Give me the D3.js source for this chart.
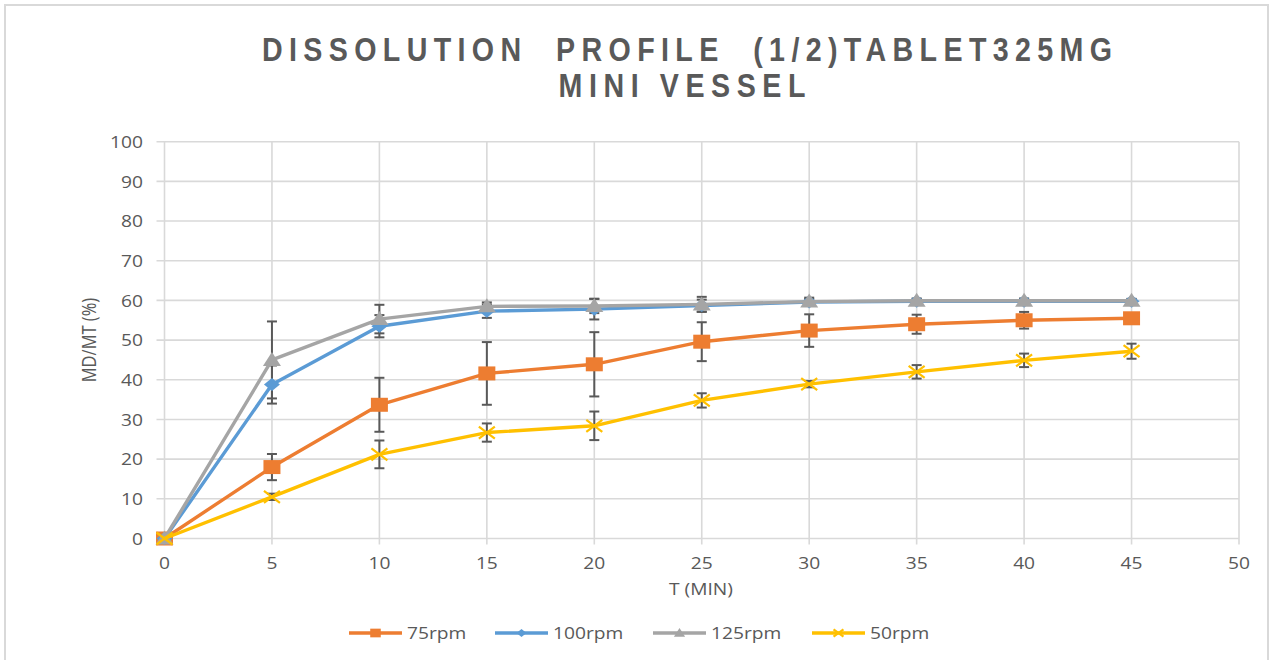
<!DOCTYPE html>
<html>
<head>
<meta charset="utf-8">
<script src="https://cdn.jsdelivr.net/npm/d3@7"></script>
<style>
html,body{margin:0;padding:0;background:#fff;}
svg{display:block;}
</style>
</head>
<body>
<svg id="chart" width="1275" height="660"></svg>
<script>
// ---- data ----
const times = [0, 5, 10, 15, 20, 25, 30, 35, 40, 45];
const rpm75 = [0, 18, 33.7, 41.6, 43.9, 49.6, 52.4, 54, 55, 55.5];
const rpm75Err = [0, 3.3, 6.8, 7.9, 8.1, 4.9, 4.1, 2.4, 2.1, 0.8];
const rpm100 = [0, 38.8, 53.5, 57.3, 57.8, 58.7, 59.6, 59.8, 59.8, 59.8];
const rpm100Err = [0, 4.8, 2.8, 1.7, 2.6, 1.5, 0.8, 0.5, 0.5, 0.5];
const rpm125 = [0, 45, 55.3, 58.5, 58.6, 59, 59.7, 59.9, 59.9, 59.9];
const rpm125Err = [0, 9.7, 3.6, 1.0, 1.8, 1.9, 1.0, 0.6, 0.6, 0.5];
const rpm50 = [0, 10.5, 21.2, 26.7, 28.4, 34.8, 38.9, 42, 44.9, 47.2];
const rpm50Err = [0, 0.8, 3.5, 2.3, 3.6, 1.8, 0.8, 1.7, 1.7, 1.9];
const seriesNames = ["75rpm", "100rpm", "125rpm", "50rpm"];
const yTicks = [0, 10, 20, 30, 40, 50, 60, 70, 80, 90, 100];
const xTicks = [0, 5, 10, 15, 20, 25, 30, 35, 40, 45, 50];
const titleLines = ["DISSOLUTION  PROFILE  (1/2)TABLET325MG", "MINI VESSEL"];
const xTitle = "T (MIN)";
const yTitle = "MD/MT (%)";

const series = [
  {name: seriesNames[0], values: rpm75, err: rpm75Err, color: "#ED7D31", marker: "square"},
  {name: seriesNames[1], values: rpm100, err: rpm100Err, color: "#5B9BD5", marker: "diamond"},
  {name: seriesNames[2], values: rpm125, err: rpm125Err, color: "#A5A5A5", marker: "triangle"},
  {name: seriesNames[3], values: rpm50, err: rpm50Err, color: "#FFC000", marker: "x"}
];

const svg = d3.select("#chart");
const textColor = "#595959";
const gridColor = "#d9d9d9";
const font = "'Open Sans', 'DejaVu Sans', sans-serif";
const SX = 1.2; // horizontal stretch of text

// outer border
svg.append("rect").attr("x", 5).attr("y", 5).attr("width", 1263).attr("height", 665)
  .attr("fill", "none").attr("stroke", gridColor).attr("stroke-width", 2);

const x = d3.scaleLinear().domain([0, 50]).range([164.5, 1239]);
const y = d3.scaleLinear().domain([0, 100]).range([538.5, 141.7]);

// title
const titleWidths = [850, 247];
const titleCenters = [687, 682];
const titleBase = [61, 97];
const TSX = 1.06, TSY = 1.2;
titleLines.forEach((t, i) => {
  svg.append("text")
    .attr("transform", `translate(${titleCenters[i]},${titleBase[i]}) scale(${TSX},${TSY})`)
    .attr("text-anchor", "middle")
    .style("white-space", "pre")
    .attr("font-family", "'Liberation Sans', Arial, sans-serif")
    .attr("font-weight", "bold")
    .attr("font-size", 27)
    .attr("fill", textColor)
    .attr("textLength", titleWidths[i] / TSX)
    .attr("lengthAdjust", "spacing")
    .text(t);
});

// gridlines
const grid = svg.append("g");
grid.selectAll("line.h").data(yTicks).join("line")
  .attr("x1", x(0) - 8).attr("x2", x(50))
  .attr("y1", d => y(d)).attr("y2", d => y(d))
  .attr("stroke", gridColor).attr("stroke-width", 1.6);
grid.selectAll("line.v").data(xTicks).join("line")
  .attr("x1", d => x(d)).attr("x2", d => x(d))
  .attr("y1", y(100)).attr("y2", y(0) + 6)
  .attr("stroke", gridColor).attr("stroke-width", 1.6);

function stretchedText(g, tx, ty, str, anchor, size) {
  return g.append("text")
    .attr("transform", `translate(${tx},${ty}) scale(${SX},1)`)
    .attr("text-anchor", anchor)
    .attr("dominant-baseline", "central")
    .attr("font-family", font)
    .attr("font-size", size)
    .attr("fill", textColor)
    .text(str);
}

// axis labels
const axG = svg.append("g");
yTicks.forEach(v => stretchedText(axG, 143, y(v), String(v), "end", 16));
xTicks.forEach(v => stretchedText(axG, x(v), 563, String(v), "middle", 16));
stretchedText(axG, 701, 589, xTitle, "middle", 16);
axG.append("text")
  .attr("transform", `translate(88,340) rotate(-90) scale(1,${SX})`)
  .attr("text-anchor", "middle")
  .attr("dominant-baseline", "central")
  .attr("font-family", font).attr("font-size", 16.5).attr("fill", textColor)
  .text(yTitle);

// error bars
const errG = svg.append("g");
series.forEach(s => {
  times.forEach((t, i) => {
    const e = s.err[i];
    if (!e) return;
    const cx = x(t), y1 = y(s.values[i] + e), y2 = y(s.values[i] - e);
    errG.append("line").attr("x1", cx).attr("x2", cx).attr("y1", y1).attr("y2", y2)
      .attr("stroke", "#595959").attr("stroke-width", 2);
    [y1, y2].forEach(yy => errG.append("line")
      .attr("x1", cx - 5).attr("x2", cx + 5).attr("y1", yy).attr("y2", yy)
      .attr("stroke", "#595959").attr("stroke-width", 2));
  });
});

function drawMarker(g, type, cx, cy, color, k) {
  if (type === "square") {
    g.append("rect").attr("x", cx - 8.5 * k).attr("y", cy - 7 * k)
      .attr("width", 17 * k).attr("height", 14 * k).attr("fill", color);
  } else if (type === "diamond") {
    g.append("path").attr("d", `M${cx},${cy - 6.5 * k}L${cx + 8 * k},${cy}L${cx},${cy + 6.5 * k}L${cx - 8 * k},${cy}Z`)
      .attr("fill", color);
  } else if (type === "triangle") {
    g.append("path").attr("d", `M${cx},${cy - 8 * k}L${cx + 9 * k},${cy + 6 * k}L${cx - 9 * k},${cy + 6 * k}Z`)
      .attr("fill", color);
  } else if (type === "x") {
    g.append("path").attr("d", `M${cx - 8 * k},${cy - 6 * k}L${cx + 8 * k},${cy + 6 * k}M${cx - 8 * k},${cy + 6 * k}L${cx + 8 * k},${cy - 6 * k}`)
      .attr("stroke", color).attr("stroke-width", 2.2).attr("fill", "none");
  }
}

// lines + markers
const line = d3.line().x((d, i) => x(times[i])).y(d => y(d));
series.forEach(s => {
  const g = svg.append("g");
  g.append("path").attr("d", line(s.values)).attr("fill", "none")
    .attr("stroke", s.color).attr("stroke-width", 3.4).attr("stroke-linejoin", "round");
  s.values.forEach((v, i) => drawMarker(g, s.marker, x(times[i]), y(v), s.color, 1));
});

// legend
const legX = [349, 495, 653, 812];
const legY = 633;
const legG = svg.append("g");
series.forEach((s, i) => {
  const x0 = legX[i];
  legG.append("line").attr("x1", x0).attr("x2", x0 + 53).attr("y1", legY).attr("y2", legY)
    .attr("stroke", s.color).attr("stroke-width", 3.4);
  drawMarker(legG, s.marker, x0 + 26.5, legY, s.color, 0.62);
  stretchedText(legG, x0 + 58, legY, s.name, "start", 16);
});
</script>
</body>
</html>
